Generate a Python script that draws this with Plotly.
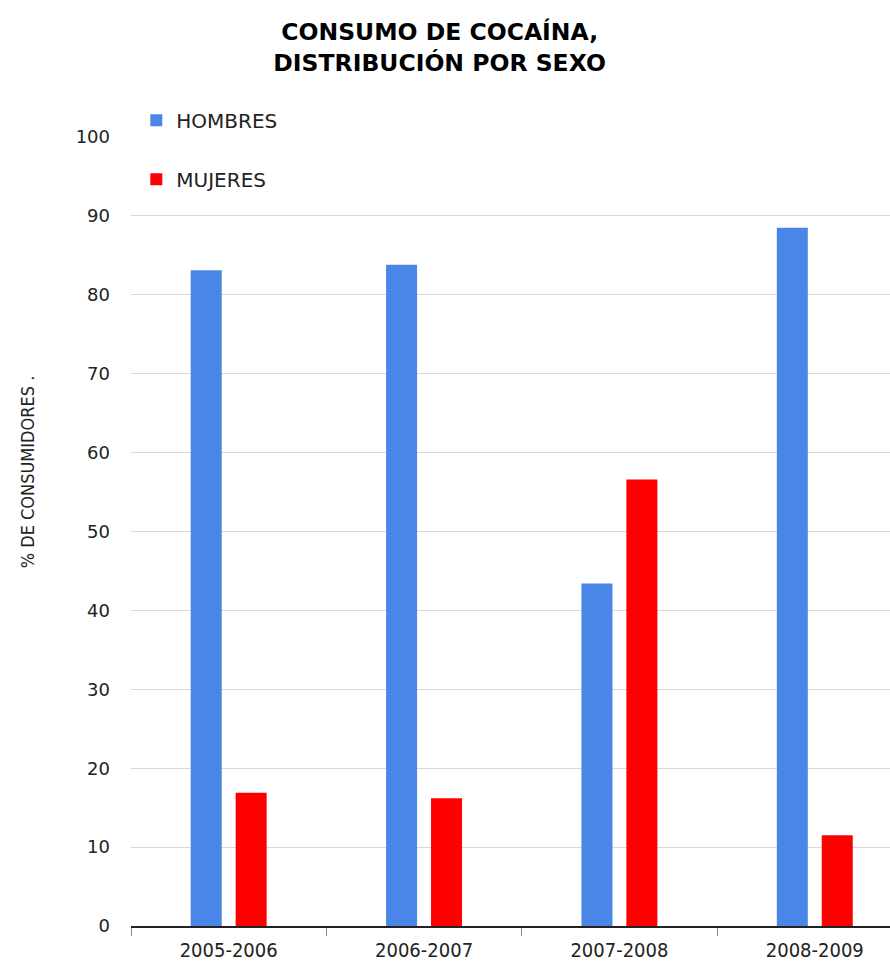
import plotly.graph_objects as go

# Survey periods and share of cocaine users by sex (%)
periodos = ["2005-2006", "2006-2007", "2007-2008", "2008-2009"]
hombres = [83.1, 83.8, 43.4, 88.5]
mujeres = [16.9, 16.2, 56.6, 11.5]
y_ticks = [0, 10, 20, 30, 40, 50, 60, 70, 80, 90, 100]

AZUL = "#4a86e8"
ROJO = "#ff0000"
NARROW = "DejaVu Sans Condensed, Liberation Sans, sans-serif"

fig = go.Figure()
fig.add_trace(go.Bar(name="HOMBRES", x=periodos, y=hombres, marker_color=AZUL,
                     marker_line_width=0, legendgroup="h"))
fig.add_trace(go.Bar(name="MUJERES", x=periodos, y=mujeres, marker_color=ROJO,
                     marker_line_width=0, legendgroup="m"))

fig.update_layout(
    width=890, height=963,
    margin=dict(l=131, r=0, t=137, b=37),
    paper_bgcolor="white", plot_bgcolor="white",
    barmode="group", bargap=0.54, bargroupgap=0.31,
    title=dict(
        text="<b>CONSUMO DE COCAÍNA,<br>DISTRIBUCIÓN POR SEXO</b>",
        x=0.494, xanchor="center", y=0.958, yanchor="top",
        font=dict(family="DejaVu Sans", size=23.5, color="black"),
    ),
    legend=dict(
        x=0.007, xanchor="left", y=1.046, yanchor="top",
        font=dict(family="DejaVu Sans", size=20, color="#222222"),
        traceorder="grouped", tracegroupgap=30,
        bgcolor="rgba(0,0,0,0)",
    ),
    showlegend=True,
)

fig.update_xaxes(
    type="category", range=[-0.5, 3.385],
    showline=True, linecolor="#222222", linewidth=1.5,
    ticks="outside", tickson="boundaries", ticklen=8, tickcolor="#888888",
    showgrid=False, ticklabelstandoff=5,
    tickfont=dict(family=NARROW, size=20, color="#222222"),
)
fig.update_yaxes(
    range=[0, 100], tickvals=y_ticks,
    showgrid=True, gridcolor="#d9d9d9", gridwidth=1,
    showline=False, zeroline=False, ticks="",
    ticklabelstandoff=20,
    tickfont=dict(family="DejaVu Sans", size=18, color="#222222"),
)

fig.add_annotation(
    text="% DE CONSUMIDORES .", textangle=-90,
    xref="paper", yref="paper", x=-0.136, y=0.576,
    xanchor="center", yanchor="middle", showarrow=False,
    font=dict(family=NARROW, size=18, color="#222222"),
)

fig.write_html("out.html")
